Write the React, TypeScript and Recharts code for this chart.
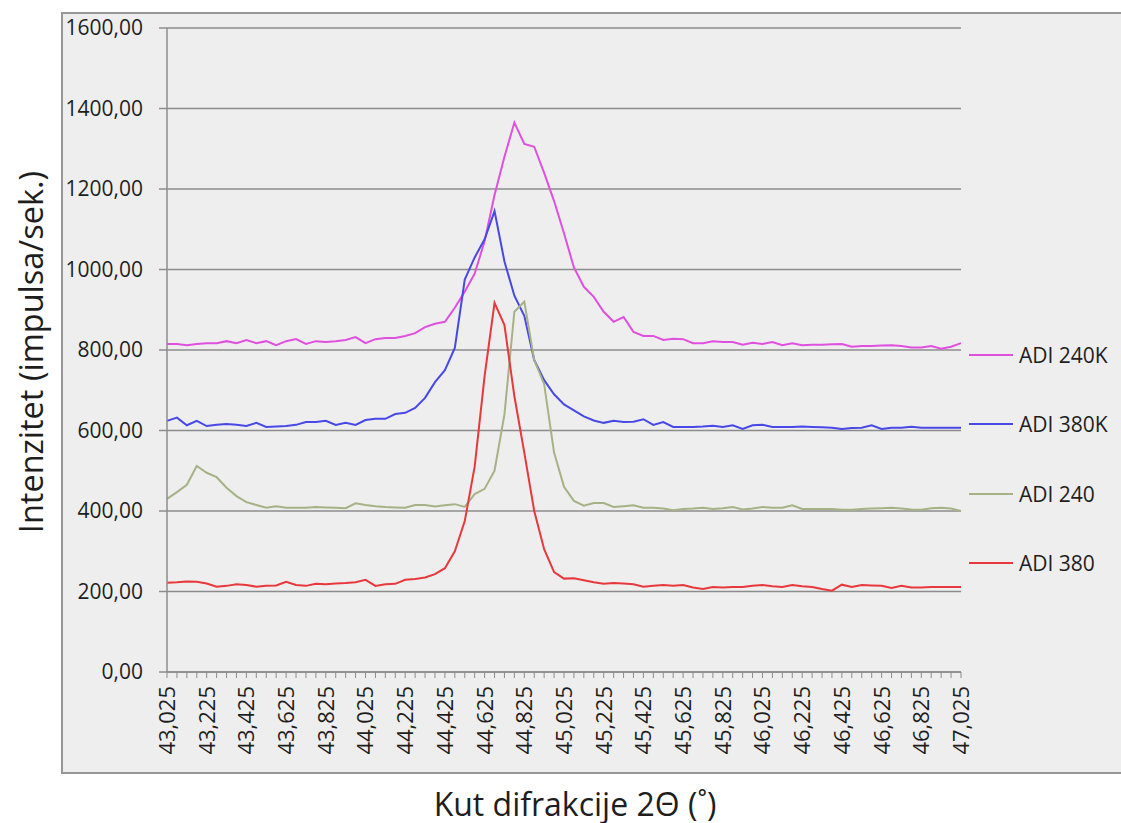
import React from 'react';
import { LineChart, Line, XAxis, YAxis, CartesianGrid, Legend } from 'recharts';

// Kut difrakcije 2Θ, korak 0,05
const angles = [
  '43,025', '43,075', '43,125', '43,175', '43,225', '43,275', '43,325', '43,375',
  '43,425', '43,475', '43,525', '43,575', '43,625', '43,675', '43,725', '43,775',
  '43,825', '43,875', '43,925', '43,975', '44,025', '44,075', '44,125', '44,175',
  '44,225', '44,275', '44,325', '44,375', '44,425', '44,475', '44,525', '44,575',
  '44,625', '44,675', '44,725', '44,775', '44,825', '44,875', '44,925', '44,975',
  '45,025', '45,075', '45,125', '45,175', '45,225', '45,275', '45,325', '45,375',
  '45,425', '45,475', '45,525', '45,575', '45,625', '45,675', '45,725', '45,775',
  '45,825', '45,875', '45,925', '45,975', '46,025', '46,075', '46,125', '46,175',
  '46,225', '46,275', '46,325', '46,375', '46,425', '46,475', '46,525', '46,575',
  '46,625', '46,675', '46,725', '46,775', '46,825', '46,875', '46,925', '46,975',
  '47,025',
];

const adi240K = [
  815, 815, 812, 815, 817, 817, 822, 817, 825, 817, 822, 812, 822, 827, 815, 822,
  820, 822, 825, 832, 817, 827, 830, 830, 835, 842, 857, 865, 870,
  905, 945, 990, 1070, 1185, 1280, 1365, 1312, 1305, 1240, 1170, 1090, 1005, 957,
  932, 895, 870, 882, 845, 835,
  835, 825, 828, 827, 817, 817, 822, 820, 820, 813, 818, 815, 820, 812, 817, 812,
  813, 813, 814, 815, 808, 810, 810, 811, 812, 810, 806, 806, 810, 803, 808, 817,
];

const adi380K = [
  624, 632, 613, 624, 611, 614, 616, 614, 611, 619, 609, 610, 611, 614, 621, 621,
  624, 614, 619, 614, 626, 629, 629, 641, 644, 656, 681, 720, 750, 805,
  975, 1030, 1075, 1145, 1020, 935, 885, 775, 725, 690, 665, 650, 635, 625,
  619, 624, 621, 622, 628, 614, 621, 609, 609, 609, 610, 612, 609, 613, 604, 613,
  614, 609, 609, 609, 610, 609, 608, 607, 604, 606, 607, 613, 604, 607, 607, 609,
  607, 607, 607, 607, 607,
];

const adi240 = [
  430, 447, 465, 512, 495, 484, 458, 437, 422, 415, 408, 412, 408, 408, 408, 410,
  409, 408, 407, 419, 415, 412, 410, 409, 408, 415, 415, 411, 414, 417, 410,
  442, 455, 500, 640, 895, 920, 775, 715, 545, 460, 425, 413, 420, 420, 410, 412,
  414, 408, 408, 406, 402, 405, 406, 408, 405, 407, 410, 404, 406, 410, 408, 408,
  414, 405, 405, 405, 405, 403, 403, 405, 406, 407, 408, 406, 404, 403, 407, 408,
  406, 400,
];

const adi380 = [
  222, 223, 225, 224, 220, 212, 214, 218, 216, 212, 214, 215, 224, 216, 214, 219,
  218, 220, 221, 223, 229, 214, 218, 219, 229, 231, 235, 243, 258,
  300, 375, 510, 735, 917, 862, 685, 545, 400, 305, 248, 232, 233, 228, 223, 219, 221,
  220, 218, 212, 214, 216, 214, 216, 210, 206, 211, 210, 211, 211, 214, 216, 213,
  211, 216, 213, 211, 206, 202, 217, 211, 216, 215, 214, 209, 214, 210, 210, 211,
  211, 211, 211,
];

const yTicks = [0, 200, 400, 600, 800, 1000, 1200, 1400, 1600];

const SERIES = [
  { key: 'adi240K', name: 'ADI 240K', color: '#E050DF' },
  { key: 'adi380K', name: 'ADI 380K', color: '#4848E6' },
  { key: 'adi240', name: 'ADI 240', color: '#A6B286' },
  { key: 'adi380', name: 'ADI 380', color: '#E8383C' },
];

const chartData = angles.map((angle, i) => ({
  angle,
  adi240K: adi240K[i],
  adi380K: adi380K[i],
  adi240: adi240[i],
  adi380: adi380[i],
}));

const AXIS_GRAY = '#8c8c8c';
const TEXT = '#1e1e1e';

const formatY = (v: number) => v.toFixed(2).replace('.', ',');

// only every 4th category gets a label, all get a tick mark
const AngleTick = (props: any) => {
  const { x, y, payload, index } = props;
  const idx = payload && payload.index != null ? payload.index : index;
  if (idx % 4 !== 0) return null;
  return (
    <text
      x={x}
      y={y}
      transform={`rotate(-90, ${x}, ${y})`}
      textAnchor="end"
      dy="0.36em"
      fontSize={22}
      fill={TEXT}
    >
      {payload.value}
    </text>
  );
};

const renderLegend = () => (
  <div style={{ width: 150 }}>
    {SERIES.map((s) => (
      <div key={s.key} style={{ height: 69.3 }}>
        <div style={{ display: 'flex', alignItems: 'center', height: 30 }}>
          <span style={{ display: 'inline-block', width: 44, height: 2, background: s.color, marginRight: 6 }} />
          <span style={{ fontSize: 21, color: TEXT, whiteSpace: 'nowrap' }}>{s.name}</span>
        </div>
      </div>
    ))}
  </div>
);

export default function App() {
  return (
    <div
      style={{
        position: 'absolute',
        left: 0,
        top: 0,
        width: 1121,
        height: 823,
        overflow: 'hidden',
        background: '#ffffff',
        fontFamily: '"Open Sans", "DejaVu Sans", sans-serif',
      }}
    >
      {/* chart area frame */}
      <div
        style={{
          position: 'absolute',
          left: 61,
          top: 12,
          width: 1080,
          height: 758,
          border: '2px solid #979797',
          background: '#eeeeee',
        }}
      />

      <div style={{ position: 'absolute', left: 0, top: 0 }}>
        <LineChart
          width={1121}
          height={823}
          data={chartData}
          margin={{ top: 28, right: 160, bottom: 51, left: 67 }}
        >
          <CartesianGrid vertical={false} stroke={AXIS_GRAY} strokeWidth={1.5} />
          <XAxis
            dataKey="angle"
            height={100}
            interval={0}
            tick={<AngleTick />}
            tickSize={6}
            tickMargin={8}
            axisLine={{ stroke: AXIS_GRAY, strokeWidth: 1.5 }}
            tickLine={{ stroke: AXIS_GRAY, strokeWidth: 1 }}
          />
          <YAxis
            width={100}
            domain={[0, 1600]}
            ticks={yTicks}
            tickFormatter={formatY}
            tickSize={8}
            tickMargin={16}
            tick={{ fontSize: 21, fill: TEXT }}
            axisLine={{ stroke: AXIS_GRAY, strokeWidth: 1.5 }}
            tickLine={{ stroke: AXIS_GRAY, strokeWidth: 1.5 }}
          />
          <Legend
            layout="vertical"
            align="center"
            verticalAlign="middle"
            content={renderLegend}
            wrapperStyle={{ left: 969, top: 340, width: 150 }}
          />
          {SERIES.map((s) => (
            <Line
              key={s.key}
              type="linear"
              dataKey={s.key}
              name={s.name}
              stroke={s.color}
              strokeWidth={2}
              dot={false}
              isAnimationActive={false}
            />
          ))}
        </LineChart>
      </div>

      <div
        style={{
          position: 'absolute',
          left: 30,
          top: 352,
          transform: 'translate(-50%, -50%) rotate(-90deg)',
          whiteSpace: 'nowrap',
          fontSize: 32.5,
          color: TEXT,
        }}
      >
        Intenzitet (impulsa/sek.)
      </div>
      <div
        style={{
          position: 'absolute',
          left: 575,
          top: 803,
          transform: 'translate(-50%, -50%)',
          whiteSpace: 'nowrap',
          fontSize: 32,
          color: TEXT,
        }}
      >
        Kut difrakcije 2Θ (˚)
      </div>
    </div>
  );
}
